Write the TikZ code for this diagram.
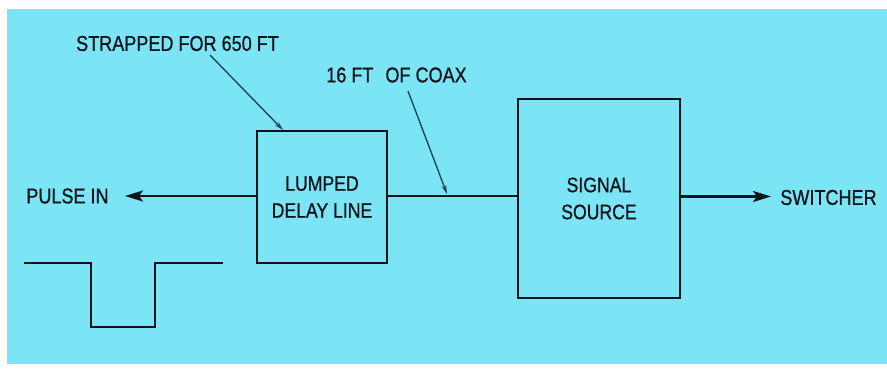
\documentclass[tikz,border=0pt]{standalone}
\usepackage{fontspec}
\setmainfont{Liberation Sans}[FakeStretch=0.84,FakeBold=0.7]
\usetikzlibrary{arrows.meta,calc}
\definecolor{bgblue}{RGB}{124,229,245}
\definecolor{ink}{RGB}{18,18,26}
\definecolor{leader}{RGB}{25,75,85}
\tikzset{
  blockbox/.style={draw=ink, line width=2.7pt, align=center, inner sep=0pt,
    font={\fontsize{21}{27}\selectfont}, text=ink},
  lbl/.style={inner sep=0pt, text=ink, font={\fontsize{21.5}{26}\selectfont}},
  wire/.style={draw=ink, line width=2.6pt},
  bigarrow/.style={wire, -{Stealth[length=18pt,width=11pt,inset=4pt]}},
  leaderline/.style={draw=leader, line width=1.4pt, -{Stealth[length=9pt,width=5pt]}}
}
\begin{document}
\begin{tikzpicture}[x=1pt,y=-1pt]
\useasboundingbox (0,0) rectangle (887,369);
\fill[white] (0,0) rectangle (887,369);
\fill[bgblue] (7,9) rectangle (887,364);

\node[blockbox, minimum width=130pt, minimum height=132pt] (delay) at (322,197) {LUMPED\\DELAY LINE};
\node[blockbox, minimum width=162pt, minimum height=199pt] (signal) at (599,198.5) {SIGNAL\\SOURCE};

\node[lbl] (pulse) at (67.5,196) {PULSE IN};
\node[lbl] (switcher) at (828.5,197.5) {SWITCHER};
\node[lbl] (strap) at (177.5,43.5) {STRAPPED FOR 650 FT};
\node[lbl] (coax) at (396.5,75) {16 FT\hspace{12pt}OF COAX};

\coordinate (pulsetip) at (125,196);
\coordinate (swtip) at (771,196.5);
\coordinate (strapstart) at (210,55);
\coordinate (strapend) at (283,130);
\coordinate (coaxstart) at (408,91);
\coordinate (coaxend) at (447,194);

\draw[bigarrow] (delay.west |- pulsetip) -- (pulsetip);
\draw[wire] (delay.east |- 0,196) -- (signal.west |- 0,196);
\draw[bigarrow] (signal.east |- swtip) -- (swtip);

\draw[leaderline] (strapstart) -- (strapend);
\draw[leaderline] (coaxstart) -- (coaxend);

% input pulse waveform
\draw[wire, line join=miter] (24,263) -- (91,263) -- (91,327) -- (155,327) -- (155,263) -- (223,263);
\end{tikzpicture}
\end{document}
